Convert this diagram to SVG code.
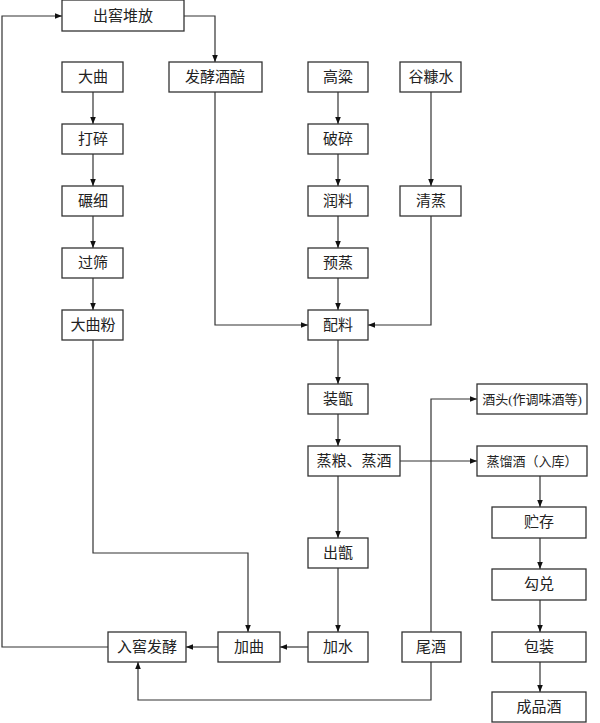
<svg xmlns="http://www.w3.org/2000/svg" width="600" height="723" viewBox="0 0 600 723">
<style>
rect{fill:#fff;stroke:#333;stroke-width:1.3}
text{font-family:"Liberation Serif","Noto Sans CJK SC",serif;font-size:15px;fill:#222;text-anchor:middle;dominant-baseline:central}
.c path{fill:none;stroke:#333;stroke-width:1.2;marker-end:url(#a)}
</style>
<defs><marker id="a" viewBox="0 0 10 10" refX="10" refY="5" markerWidth="7" markerHeight="7" markerUnits="userSpaceOnUse" orient="auto"><path d="M0,1L10,5L0,9z" fill="#111"/></marker></defs>
<rect x="0" y="0" width="600" height="723" style="fill:#fff;stroke:none"/>
<g class="c">
<path d="M108,647H2V16H62"/>
<path d="M184,16H215V62"/>
<path d="M93,92V124"/><path d="M93,154V186"/><path d="M93,216V248"/><path d="M93,278V310"/>
<path d="M338,92V124"/><path d="M338,154V186"/><path d="M338,216V248"/><path d="M338,278V310"/>
<path d="M431,92V186"/>
<path d="M215,92V325H308"/>
<path d="M431,216V325H368"/>
<path d="M338,340V384"/><path d="M338,414V446"/><path d="M338,476V538"/><path d="M338,568V632"/>
<path d="M400,461H477"/>
<path d="M431,632V399H477"/>
<path d="M93,340V553H248V632"/>
<path d="M308,647H280"/><path d="M218,647H186"/>
<path d="M431,662V700H138V662"/>
<path d="M540,476V507"/><path d="M540,538V569"/><path d="M540,600V632"/><path d="M540,662V692"/>
</g>
<g id="n1"><rect x="62" y="0" width="122" height="31"/><text x="123" y="16">出窖堆放</text></g>
<g id="n2"><rect x="62" y="62" width="61" height="30"/><text x="93" y="77">大曲</text></g>
<g id="n3"><rect x="62" y="124" width="61" height="30"/><text x="93" y="139">打碎</text></g>
<g id="n4"><rect x="62" y="186" width="61" height="30"/><text x="93" y="201">碾细</text></g>
<g id="n5"><rect x="62" y="248" width="61" height="30"/><text x="93" y="263">过筛</text></g>
<g id="n6"><rect x="62" y="310" width="61" height="30"/><text x="93" y="325">大曲粉</text></g>
<g id="n7"><rect x="169" y="62" width="93" height="30"/><text x="215" y="77">发酵酒醅</text></g>
<g id="n8"><rect x="308" y="62" width="60" height="30"/><text x="338" y="77">高粱</text></g>
<g id="n9"><rect x="308" y="124" width="60" height="30"/><text x="338" y="139">破碎</text></g>
<g id="n10"><rect x="308" y="186" width="60" height="30"/><text x="338" y="201">润料</text></g>
<g id="n11"><rect x="308" y="248" width="60" height="30"/><text x="338" y="263">预蒸</text></g>
<g id="n12"><rect x="308" y="310" width="60" height="30"/><text x="338" y="325">配料</text></g>
<g id="n13"><rect x="400" y="62" width="61" height="30"/><text x="431" y="77">谷糠水</text></g>
<g id="n14"><rect x="400" y="186" width="61" height="30"/><text x="431" y="201">清蒸</text></g>
<g id="n15"><rect x="308" y="384" width="60" height="30"/><text x="338" y="399">装甑</text></g>
<g id="n16"><rect x="308" y="446" width="92" height="30"/><text x="354" y="461">蒸粮、蒸酒</text></g>
<g id="n17"><rect x="308" y="538" width="60" height="30"/><text x="338" y="553">出甑</text></g>
<g id="n18"><rect x="308" y="632" width="60" height="30"/><text x="338" y="647">加水</text></g>
<g id="n19"><rect x="218" y="632" width="62" height="30"/><text x="249" y="647">加曲</text></g>
<g id="n20"><rect x="108" y="632" width="78" height="30"/><text x="147" y="647">入窖发酵</text></g>
<g id="n21"><rect x="402" y="632" width="59" height="30"/><text x="431" y="647">尾酒</text></g>
<g id="n22"><rect x="477" y="384" width="110" height="30"/><text x="532" y="399" style="font-size:13px">酒头(作调味酒等)</text></g>
<g id="n23"><rect x="477" y="446" width="110" height="30"/><text x="532" y="461" style="font-size:13px">蒸馏酒（入库）</text></g>
<g id="n24"><rect x="492" y="507" width="94" height="31"/><text x="539" y="522">贮存</text></g>
<g id="n25"><rect x="492" y="569" width="94" height="31"/><text x="539" y="584">勾兑</text></g>
<g id="n26"><rect x="492" y="632" width="94" height="30"/><text x="539" y="647">包装</text></g>
<g id="n27"><rect x="492" y="692" width="94" height="30"/><text x="539" y="707">成品酒</text></g>
</svg>
